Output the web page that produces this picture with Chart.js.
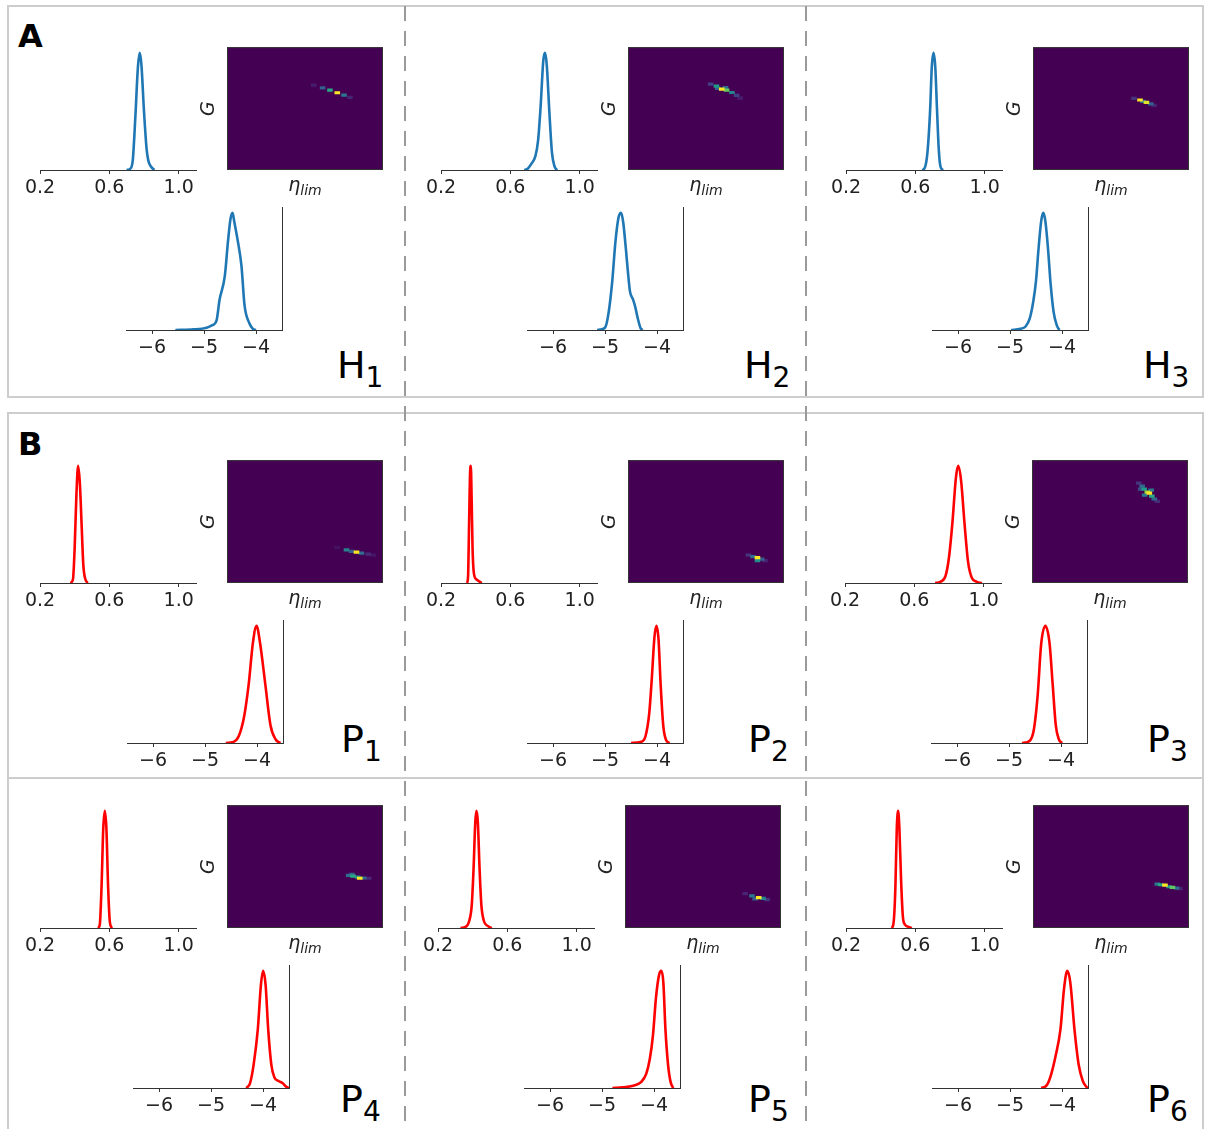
<!DOCTYPE html>
<html>
<head>
<meta charset="utf-8">
<script src="https://cdn.jsdelivr.net/npm/chart.js@4.4.1/dist/chart.umd.min.js"></script>
<style>
body { margin: 0; background: #fff; width: 1206px; height: 1129px; position: relative; overflow: hidden; font-family: 'DejaVu Sans', sans-serif; color: #000; }
.box { position: absolute; border: 2px solid #cdcdcd; box-sizing: border-box; }
.hline { position: absolute; height: 2px; background: #cdcdcd; }
.dash { position: absolute; width: 2px; background: repeating-linear-gradient(to bottom, #9a9a9a 0 15px, transparent 15px 25px); }
canvas { position: absolute; }
.letter { position: absolute; font-weight: bold; font-size: 32px; line-height: 1; }
.plabel { position: absolute; font-size: 38px; line-height: 1; white-space: nowrap; }
.plabel span { font-size: 28px; position: relative; top: 9px; }
.eta { position: absolute; width: 80px; text-align: center; font-size: 19px; line-height: 1; font-style: italic; color: #222; }
.eta span { font-size: 14px; position: relative; top: 4px; }
</style>
</head>
<body>
<div class="box" style="left:7px;top:5px;width:1197px;height:393px"></div>
<div class="box" style="left:7px;top:412px;width:1197px;height:722px"></div>
<div class="hline" style="left:7px;top:777px;width:1197px"></div>
<div class="dash" style="left:404px;top:6px;height:1123px"></div>
<div class="dash" style="left:805px;top:6px;height:1123px"></div>
<div class="letter" style="left:18px;top:20px">A</div>
<div class="letter" style="left:18px;top:428px">B</div>
<script>
// tick labels and axis ranges
const etaTicks = [0.2, 0.6, 1.0]
const gTicks = [-6, -5, -4]
const etaRange = [0.2, 1.1]
const gRange = [-6.5, -3.5]

const panelNames = ['H1', 'H2', 'H3', 'P1', 'P2', 'P3', 'P4', 'P5', 'P6']

// marginal densities of eta_lim, [eta, relative density]
const h1Eta = [[0.70, 0], [0.72, 0.01], [0.735, 0.08], [0.75, 0.45], [0.765, 0.88], [0.775, 1.0], [0.785, 0.9], [0.80, 0.5], [0.815, 0.18], [0.825, 0.08], [0.84, 0.03], [0.86, 0]]
const h2Eta = [[0.68, 0], [0.70, 0.01], [0.72, 0.05], [0.745, 0.12], [0.76, 0.25], [0.775, 0.55], [0.79, 0.93], [0.80, 1], [0.81, 0.9], [0.825, 0.5], [0.84, 0.15], [0.855, 0.03], [0.87, 0]]
const h3Eta = [[0.64, 0], [0.655, 0.02], [0.67, 0.15], [0.685, 0.5], [0.695, 0.88], [0.705, 1], [0.715, 0.88], [0.725, 0.52], [0.735, 0.18], [0.745, 0.03], [0.76, 0]]
const p1Eta = [[0.375, 0], [0.39, 0.03], [0.40, 0.3], [0.41, 0.75], [0.42, 1], [0.43, 0.85], [0.44, 0.5], [0.45, 0.15], [0.46, 0.04], [0.475, 0]]
const p2Eta = [[0.35, 0], [0.356, 0.05], [0.362, 0.5], [0.368, 0.95], [0.372, 1], [0.377, 0.7], [0.382, 0.3], [0.39, 0.08], [0.405, 0.03], [0.425, 0.01], [0.435, 0]]
const p3Eta = [[0.72, 0], [0.75, 0.01], [0.78, 0.06], [0.80, 0.22], [0.82, 0.52], [0.84, 0.9], [0.853, 1], [0.87, 0.87], [0.89, 0.5], [0.91, 0.18], [0.93, 0.05], [0.96, 0.01], [0.99, 0]]
const p4Eta = [[0.535, 0], [0.545, 0.03], [0.555, 0.35], [0.565, 0.85], [0.574, 1], [0.583, 0.85], [0.593, 0.35], [0.603, 0.05], [0.615, 0]]
const p5Eta = [[0.33, 0], [0.36, 0.01], [0.38, 0.06], [0.395, 0.2], [0.405, 0.5], [0.415, 0.9], [0.422, 1], [0.43, 0.9], [0.44, 0.5], [0.45, 0.2], [0.465, 0.06], [0.485, 0.02], [0.51, 0]]
const p6Eta = [[0.465, 0], [0.475, 0.05], [0.485, 0.35], [0.493, 0.85], [0.501, 1], [0.508, 0.85], [0.518, 0.4], [0.528, 0.1], [0.54, 0.03], [0.56, 0.01], [0.58, 0]]

// marginal densities of G, [G, relative density]
const h1G = [[-5.55, 0], [-5.2, 0.005], [-4.95, 0.02], [-4.85, 0.04], [-4.76, 0.08], [-4.70, 0.26], [-4.60, 0.46], [-4.54, 0.75], [-4.49, 0.95], [-4.45, 1.0], [-4.42, 0.93], [-4.35, 0.76], [-4.28, 0.55], [-4.22, 0.21], [-4.13, 0.06], [-4.06, 0.01], [-4.0, 0]]
const h2G = [[-5.15, 0], [-5.0, 0.02], [-4.93, 0.15], [-4.86, 0.42], [-4.80, 0.75], [-4.74, 0.96], [-4.69, 1.0], [-4.65, 0.92], [-4.60, 0.7], [-4.56, 0.5], [-4.52, 0.33], [-4.46, 0.26], [-4.42, 0.2], [-4.37, 0.1], [-4.32, 0.02], [-4.28, 0]]
const h3G = [[-4.98, 0], [-4.80, 0.01], [-4.70, 0.03], [-4.62, 0.1], [-4.55, 0.25], [-4.50, 0.42], [-4.45, 0.7], [-4.40, 0.93], [-4.36, 1.0], [-4.32, 0.93], [-4.27, 0.7], [-4.22, 0.4], [-4.16, 0.15], [-4.10, 0.04], [-4.05, 0]]
const p1G = [[-4.6, 0], [-4.45, 0.01], [-4.35, 0.06], [-4.25, 0.22], [-4.16, 0.5], [-4.08, 0.85], [-4.01, 1], [-3.94, 0.85], [-3.84, 0.5], [-3.74, 0.15], [-3.64, 0.03], [-3.55, 0]]
const p2G = [[-4.5, 0], [-4.3, 0.01], [-4.22, 0.06], [-4.15, 0.25], [-4.10, 0.55], [-4.05, 0.9], [-4.01, 1], [-3.97, 0.88], [-3.93, 0.5], [-3.88, 0.15], [-3.83, 0.03], [-3.76, 0]]
const p3G = [[-4.75, 0], [-4.6, 0.02], [-4.52, 0.12], [-4.45, 0.4], [-4.38, 0.85], [-4.30, 1], [-4.22, 0.85], [-4.16, 0.5], [-4.10, 0.15], [-4.04, 0.03], [-3.98, 0]]
const p4G = [[-4.32, 0], [-4.25, 0.04], [-4.18, 0.2], [-4.10, 0.5], [-4.04, 0.88], [-4.0, 1], [-3.95, 0.88], [-3.90, 0.5], [-3.84, 0.2], [-3.78, 0.09], [-3.70, 0.06], [-3.62, 0.04], [-3.55, 0.01], [-3.5, 0]]
const p5G = [[-4.8, 0], [-4.6, 0.005], [-4.4, 0.02], [-4.25, 0.05], [-4.15, 0.12], [-4.08, 0.25], [-4.02, 0.45], [-3.96, 0.78], [-3.90, 0.97], [-3.86, 1], [-3.82, 0.9], [-3.78, 0.5], [-3.73, 0.2], [-3.68, 0.05], [-3.63, 0]]
const p6G = [[-4.4, 0], [-4.3, 0.02], [-4.22, 0.1], [-4.12, 0.28], [-4.03, 0.5], [-3.96, 0.85], [-3.90, 1], [-3.84, 0.9], [-3.76, 0.5], [-3.68, 0.2], [-3.60, 0.06], [-3.53, 0.01], [-3.5, 0]]

// joint histograms, [eta (0-1 of panel), G (0-1 of panel), count relative to max]
const h1Cells = [[0.556, 0.691, 0.08], [0.613, 0.669, 0.3], [0.660, 0.651, 0.6], [0.707, 0.629, 1.0], [0.750, 0.610, 0.4], [0.788, 0.591, 0.1]]
const h2Cells = [[0.530, 0.699, 0.2], [0.567, 0.683, 0.55], [0.601, 0.659, 1.0], [0.632, 0.651, 0.75], [0.666, 0.631, 0.45], [0.696, 0.607, 0.2], [0.719, 0.586, 0.08], [0.575, 0.665, 0.3], [0.625, 0.672, 0.35]]
const h3Cells = [[0.647, 0.583, 0.15], [0.686, 0.570, 1.0], [0.705, 0.559, 0.4], [0.727, 0.551, 0.95], [0.755, 0.538, 0.3], [0.776, 0.527, 0.1]]
const p1Cells = [[0.706, 0.289, 0.05], [0.766, 0.270, 0.45], [0.798, 0.257, 0.3], [0.830, 0.251, 1.0], [0.862, 0.243, 0.35], [0.905, 0.235, 0.12], [0.937, 0.227, 0.06]]
const p2Cells = [[0.772, 0.228, 0.15], [0.801, 0.214, 0.35], [0.830, 0.206, 1.0], [0.830, 0.182, 0.5], [0.857, 0.194, 0.3], [0.878, 0.182, 0.1]]
const p3Cells = [[0.684, 0.813, 0.15], [0.706, 0.789, 0.35], [0.719, 0.765, 0.55], [0.739, 0.740, 0.85], [0.752, 0.732, 1.0], [0.768, 0.708, 0.6], [0.784, 0.684, 0.35], [0.803, 0.664, 0.12], [0.697, 0.765, 0.25], [0.722, 0.716, 0.4], [0.764, 0.756, 0.4]]
const p4Cells = [[0.780, 0.429, 0.35], [0.808, 0.423, 0.6], [0.838, 0.415, 0.5], [0.851, 0.405, 1.0], [0.876, 0.407, 0.35], [0.908, 0.405, 0.12], [0.801, 0.437, 0.3]]
const p5Cells = [[0.770, 0.280, 0.1], [0.814, 0.261, 0.4], [0.857, 0.248, 1.0], [0.885, 0.242, 0.45], [0.911, 0.231, 0.15], [0.834, 0.237, 0.3]]
const p6Cells = [[0.797, 0.357, 0.4], [0.819, 0.352, 0.6], [0.846, 0.349, 1.0], [0.872, 0.336, 0.55], [0.894, 0.331, 0.75], [0.921, 0.325, 0.35], [0.942, 0.320, 0.1]]

const etaCurves = [h1Eta, h2Eta, h3Eta, p1Eta, p2Eta, p3Eta, p4Eta, p5Eta, p6Eta]
const gCurves = [h1G, h2G, h3G, p1G, p2G, p3G, p4G, p5G, p6G]
const heatCells = [h1Cells, h2Cells, h3Cells, p1Cells, p2Cells, p3Cells, p4Cells, p5Cells, p6Cells]

// where each panel sits on the page (px)
const layout = [
    { ox: 0, oy: 0, bx: 126, lx: 337, ly: 346 },
    { ox: 401, oy: 0, bx: 126, lx: 744, ly: 346 },
    { ox: 806, oy: 0, bx: 126, lx: 1143, ly: 346 },
    { ox: 0, oy: 413, bx: 127, lx: 341, ly: 720 },
    { ox: 401, oy: 413, bx: 126, lx: 748, ly: 720 },
    { ox: 805, oy: 413, bx: 126, lx: 1147, ly: 720 },
    { ox: 0, oy: 758, bx: 133, lx: 340, ly: 1080 },
    { ox: 398, oy: 758, bx: 126, lx: 748, ly: 1080 },
    { ox: 806, oy: 758, bx: 126, lx: 1147, ly: 1080 }
]

Chart.defaults.font.family = "'DejaVu Sans', sans-serif"
Chart.defaults.color = '#222'
Chart.defaults.animation = false
Chart.defaults.responsive = false
Chart.defaults.devicePixelRatio = 1
Chart.defaults.events = []
Chart.defaults.plugins.legend.display = false
Chart.defaults.plugins.tooltip.enabled = false

const viridisStops = [[68, 1, 84], [72, 40, 120], [62, 73, 137], [49, 104, 142], [38, 130, 142], [31, 158, 137], [53, 183, 121], [110, 206, 88], [181, 222, 43], [253, 231, 37]]

function viridis(v) {
    const t = Math.max(0, Math.min(1, v)) * (viridisStops.length - 1)
    const i = Math.min(Math.floor(t), viridisStops.length - 2)
    const f = t - i
    const a = viridisStops[i], b = viridisStops[i + 1]
    const c = a.map((x, k) => Math.round(x + (b[k] - x) * f))
    return `rgb(${c[0]}, ${c[1]}, ${c[2]})`
}

function addCanvas(left, top, w, h) {
    const c = document.createElement('canvas')
    c.width = w
    c.height = h
    c.style.left = left + 'px'
    c.style.top = top + 'px'
    document.body.appendChild(c)
    return c
}

const fmtEta = v => v.toFixed(1)
const fmtG = v => (v < 0 ? '\u2212' : '') + Math.abs(v)

function densityChart(canvas, pts, color, range, ticks, fmt, rightSpine) {
    return new Chart(canvas, {
        type: 'line',
        data: {
            datasets: [{
                data: pts.map(p => ({ x: p[0], y: p[1] })),
                borderColor: color,
                borderWidth: 2.6,
                pointRadius: 0,
                cubicInterpolationMode: 'monotone',
                fill: false
            }]
        },
        options: {
            layout: { padding: { left: 20, right: 20, top: 7, bottom: 0 } },
            scales: {
                x: {
                    type: 'linear',
                    min: range[0],
                    max: range[1],
                    afterBuildTicks: s => { s.ticks = ticks.map(v => ({ value: v })) },
                    afterFit: s => { s.height = 30; s.paddingLeft = 0; s.paddingRight = 0 },
                    ticks: { callback: fmt, font: { size: 19 }, color: '#222', padding: 3, maxRotation: 0, autoSkip: false },
                    grid: { display: true, drawOnChartArea: false, drawTicks: true, tickLength: 4, color: '#333', lineWidth: 1 },
                    border: { display: true, color: '#333', width: 1 }
                },
                y: {
                    min: 0,
                    max: 1.05,
                    display: rightSpine,
                    position: 'right',
                    ticks: { display: false },
                    grid: { display: false },
                    border: { display: true, color: '#333', width: 1 },
                    afterFit: s => { s.width = 0 }
                }
            }
        }
    })
}

// purple image background and thin frame round the joint histogram
const heatFrame = {
    id: 'heatFrame',
    beforeDatasetsDraw(chart) {
        const a = chart.chartArea, ctx = chart.ctx
        ctx.save()
        ctx.fillStyle = viridis(0)
        ctx.fillRect(a.left, a.top, a.width, a.height)
        ctx.restore()
    },
    afterDatasetsDraw(chart) {
        const a = chart.chartArea, ctx = chart.ctx
        ctx.save()
        ctx.strokeStyle = '#333'
        ctx.lineWidth = 1
        ctx.strokeRect(a.left + 0.5, a.top + 0.5, a.width - 1, a.height - 1)
        ctx.restore()
    }
}

function heatChart(canvas, cells) {
    const sorted = cells.slice().sort((a, b) => a[2] - b[2])
    const cols = sorted.map(c => viridis(c[2]))
    return new Chart(canvas, {
        type: 'scatter',
        data: {
            datasets: [{
                data: sorted.map(c => ({ x: c[0], y: c[1] })),
                pointStyle: 'line',
                pointRadius: 2.8,
                pointBorderWidth: 3.2,
                pointBorderColor: cols,
                pointBackgroundColor: cols
            }]
        },
        options: {
            layout: { padding: { left: 0, right: 8, top: 6, bottom: 30 } },
            scales: {
                x: { type: 'linear', min: 0, max: 1, display: false },
                y: {
                    min: 0,
                    max: 1,
                    ticks: { display: false },
                    grid: { display: false },
                    border: { display: false },
                    title: { display: true, text: 'G', font: { size: 19, style: 'italic' }, color: '#222', padding: { top: 3, bottom: 0 } },
                    afterFit: s => { s.width = 32 }
                }
            }
        },
        plugins: [heatFrame]
    })
}

panelNames.forEach((name, i) => {
    const L = layout[i]
    const color = name[0] === 'H' ? '#1f77b4' : '#ff0000'

    densityChart(addCanvas(L.ox + 20, L.oy + 40, 196, 160), etaCurves[i], color, etaRange, etaTicks, fmtEta, false)
    heatChart(addCanvas(L.ox + 195, L.oy + 40, 196, 160), heatCells[i])
    densityChart(addCanvas(L.ox + L.bx - 20, L.oy + 200, 196, 160), gCurves[i], color, gRange, gTicks, fmtG, true)

    const eta = document.createElement('div')
    eta.className = 'eta'
    eta.style.left = (L.ox + 305 - 40) + 'px'
    eta.style.top = (L.oy + 175) + 'px'
    eta.innerHTML = '\u03b7<span>lim</span>'
    document.body.appendChild(eta)

    const lab = document.createElement('div')
    lab.className = 'plabel'
    lab.style.left = L.lx + 'px'
    lab.style.top = L.ly + 'px'
    lab.innerHTML = name[0] + '<span>' + name.slice(1) + '</span>'
    document.body.appendChild(lab)
})
</script>
</body>
</html>
